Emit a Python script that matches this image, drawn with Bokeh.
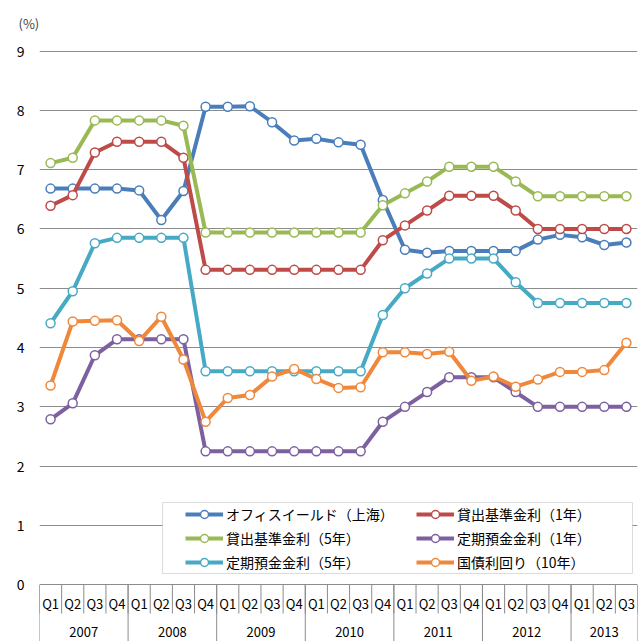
from bokeh.plotting import figure
from bokeh.models import Range1d, FixedTicker, Legend, LegendItem, BoxAnnotation
from bokeh.core.properties import value
from bokeh.embed import file_html
from bokeh.resources import INLINE

# ---------------- data ----------------
quarters = ["Q1", "Q2", "Q3", "Q4"] * 6 + ["Q1", "Q2", "Q3"]
years = ["2007", "2008", "2009", "2010", "2011", "2012", "2013"]
year_quarters = [4, 4, 4, 4, 4, 4, 3]
y_ticks = [0, 1, 2, 3, 4, 5, 6, 7, 8, 9]

office_yield = [6.68, 6.68, 6.68, 6.68, 6.65, 6.15, 6.64, 8.06, 8.06, 8.07, 7.80, 7.49, 7.52, 7.46,
                7.42, 6.49, 5.65, 5.60, 5.63, 5.63, 5.63, 5.63, 5.82, 5.90, 5.86, 5.73, 5.77]
loan_1y = [6.39, 6.57, 7.29, 7.47, 7.47, 7.47, 7.20, 5.31, 5.31, 5.31, 5.31, 5.31, 5.31, 5.31,
           5.31, 5.81, 6.06, 6.31, 6.56, 6.56, 6.56, 6.31, 6.00, 6.00, 6.00, 6.00, 6.00]
loan_5y = [7.11, 7.20, 7.83, 7.83, 7.83, 7.83, 7.74, 5.94, 5.94, 5.94, 5.94, 5.94, 5.94, 5.94,
           5.94, 6.40, 6.60, 6.80, 7.05, 7.05, 7.05, 6.80, 6.55, 6.55, 6.55, 6.55, 6.55]
deposit_1y = [2.79, 3.06, 3.87, 4.14, 4.14, 4.14, 4.14, 2.25, 2.25, 2.25, 2.25, 2.25, 2.25, 2.25,
              2.25, 2.75, 3.00, 3.25, 3.50, 3.50, 3.50, 3.25, 3.00, 3.00, 3.00, 3.00, 3.00]
deposit_5y = [4.41, 4.95, 5.76, 5.85, 5.85, 5.85, 5.85, 3.60, 3.60, 3.60, 3.60, 3.60, 3.60, 3.60,
              3.60, 4.55, 5.00, 5.25, 5.50, 5.50, 5.50, 5.10, 4.75, 4.75, 4.75, 4.75, 4.75]
bond_10y = [3.36, 4.44, 4.45, 4.46, 4.11, 4.52, 3.80, 2.75, 3.15, 3.20, 3.51, 3.64, 3.47, 3.32,
            3.33, 3.92, 3.92, 3.89, 3.93, 3.44, 3.51, 3.34, 3.46, 3.59, 3.59, 3.62, 4.08]

series_names = ["オフィスイールド（上海）", "貸出基準金利（1年）", "貸出基準金利（5年）",
                "定期預金金利（1年）", "定期預金金利（5年）", "国債利回り（10年）"]
series_values = [office_yield, loan_1y, loan_5y, deposit_1y, deposit_5y, bond_10y]
series_colors = ["#4A7EBB", "#BE4B48", "#98B954", "#7D60A0", "#46AAC5", "#F0883C"]

FONT = "Noto Sans CJK JP"
GRID = "#8c8c8c"

x = list(range(len(quarters)))

p = figure(width=643, height=641, output_backend="svg", toolbar_location=None,
           x_range=Range1d(-0.5, len(quarters) - 0.5), y_range=Range1d(-0.956, 9.211),
           x_axis_location=None, min_border_left=39, min_border_right=6,
           min_border_top=38, min_border_bottom=0)
p.outline_line_color = None
p.background_fill_color = "white"

p.title.text = "(%)"
p.title.align = "left"
p.title.offset = -21
p.title.text_font = FONT
p.title.text_font_size = "13px"
p.title.text_font_style = "normal"
p.title.standoff = 11

p.yaxis.ticker = FixedTicker(ticks=y_ticks)
p.yaxis.axis_line_color = None
p.yaxis.major_tick_line_color = None
p.yaxis.minor_tick_line_color = None
p.yaxis.major_label_standoff = 9
p.yaxis.major_label_text_font = FONT
p.yaxis.major_label_text_font_size = "14px"
p.yaxis.major_label_text_color = "black"

p.ygrid.ticker = FixedTicker(ticks=y_ticks)
p.ygrid.grid_line_color = GRID
p.ygrid.grid_line_width = 1.2
p.xgrid.visible = False

# ---------------- category table below the axis ----------------
y0 = y_ticks[0]
q_sep_x = [i - 0.5 for i in range(len(quarters) + 1)]
p.segment(x0=q_sep_x, x1=q_sep_x, y0=[y0] * len(q_sep_x), y1=[y0 - 0.484] * len(q_sep_x),
          line_color=GRID, line_width=1)
year_sep_x = [-0.5]
for n in year_quarters:
    year_sep_x.append(year_sep_x[-1] + n)
p.segment(x0=year_sep_x, x1=year_sep_x, y0=[y0] * len(year_sep_x),
          y1=[p.y_range.start] * len(year_sep_x), line_color=GRID, line_width=1)

p.text(x=x, y=[y0 - 0.315] * len(x), text=quarters, text_align="center",
       text_baseline="middle", text_font=value(FONT), text_font_size="13px", text_color="black")
year_x = [year_sep_x[i] + year_quarters[i] / 2 for i in range(len(years))]
p.text(x=year_x, y=[y0 - 0.80] * len(years), text=years, text_align="center",
       text_baseline="middle", text_font=value(FONT), text_font_size="13px", text_color="black")

# ---------------- series ----------------
items = []
for name, vals, col in zip(series_names, series_values, series_colors):
    r1 = p.line(x, vals, line_color=col, line_width=4)
    r2 = p.scatter(x, vals, size=9, fill_color="white", line_color=col, line_width=1.5)
    items.append(LegendItem(label=name, renderers=[r1, r2]))

box = BoxAnnotation(left=162, right=632, top=502, bottom=573,
                    left_units="canvas", right_units="canvas",
                    top_units="canvas", bottom_units="canvas",
                    fill_color="white", fill_alpha=1.0, line_color=GRID, line_width=1)
p.add_layout(box)

legend = Legend(items=items, orientation="horizontal", ncols=2, location=(146, 69),
                border_line_color=None, background_fill_alpha=0.0, padding=0, spacing=4,
                margin=0, glyph_width=38, glyph_height=20, label_standoff=3, label_width=186,
                label_text_font=FONT, label_text_font_size="14px", label_text_color="black")
p.add_layout(legend)

open("out.html", "w").write(file_html(p, INLINE))
